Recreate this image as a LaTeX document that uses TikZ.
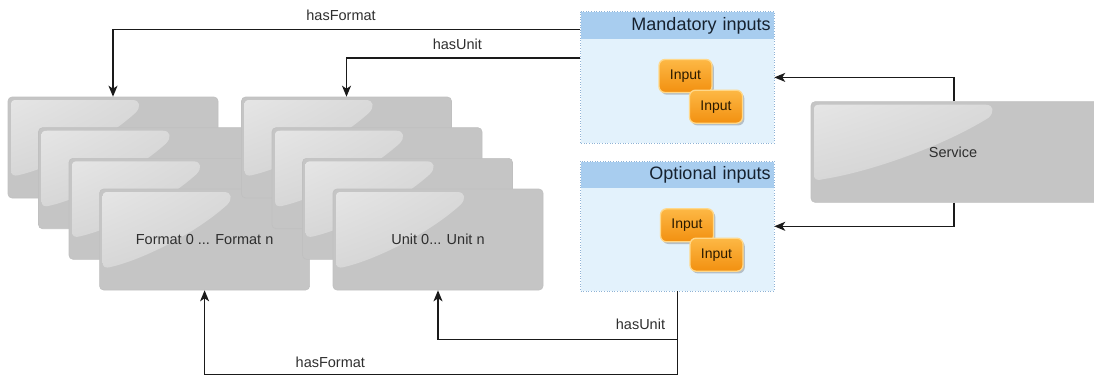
\documentclass[tikz,border=0pt]{standalone}
\usepackage{fontspec}
\setmainfont{Liberation Sans}
\usetikzlibrary{arrows.meta,shadows,calc,shadings}
\definecolor{cardgray}{HTML}{C5C5C5}
\definecolor{cardedge}{HTML}{C0C0C0}
\definecolor{glossA}{HTML}{E6E6E6}
\definecolor{glossB}{HTML}{D3D3D3}
\definecolor{glossC}{HTML}{CACACA}
\definecolor{txt}{HTML}{2E2E2E}
\definecolor{grpbody}{HTML}{E3F2FC}
\definecolor{grphead}{HTML}{A8CDEF}
\definecolor{grpedge}{HTML}{8FB3D6}
\definecolor{grptxt}{HTML}{16212E}
\definecolor{inTop}{HTML}{FDB845}
\definecolor{inBot}{HTML}{F29010}
\definecolor{inEdge}{HTML}{FFD88A}
\definecolor{inTxt}{HTML}{2A1A00}
\definecolor{conncol}{HTML}{1A1A1A}
\tikzset{
  glossy/.style={path picture={
    \shade[sharp corners, upper left=glossA, upper right=glossB, lower left=glossB, lower right=glossC]
      let \p1=(path picture bounding box.north west), \p2=(path picture bounding box.south east) in
      (\x1+3pt,{\y1-0.72*(\y1-\y2)}) -- (\x1+3pt,\y1-9pt)
      .. controls (\x1+3pt,\y1-4pt) and (\x1+4pt,\y1-3pt) .. (\x1+9pt,\y1-3pt)
      -- ({\x1+0.63*(\x2-\x1)-8pt},\y1-3pt)
      .. controls ({\x1+0.63*(\x2-\x1)},\y1-3pt) and ({\x1+0.63*(\x2-\x1)+1pt},\y1-10pt) .. ({\x1+0.63*(\x2-\x1)-5pt},\y1-16pt)
      .. controls ({\x1+0.45*(\x2-\x1)},{\y1-0.45*(\y1-\y2)}) and ({\x1+0.2*(\x2-\x1)},{\y1-0.70*(\y1-\y2)}) .. (\x1+12pt,{\y1-0.77*(\y1-\y2)})
      .. controls (\x1+5pt,{\y1-0.79*(\y1-\y2)}) and (\x1+3pt,{\y1-0.77*(\y1-\y2)}) .. (\x1+3pt,{\y1-0.72*(\y1-\y2)})
      -- cycle;
  }},
  card/.style={rounded corners=4pt, fill=cardgray, draw=cardedge, line width=0.6pt,
    minimum width=210pt, minimum height=101pt, inner sep=0pt, text=txt,
    font=\fontsize{14.5}{17}\selectfont, glossy},
  svcbox/.style={card, minimum width=290pt, minimum height=100.6pt},
  grp/.style={fill=grpbody, minimum width=193.5pt, inner sep=0pt},
  grphd/.style={fill=grphead, minimum width=193.5pt, minimum height=27.5pt, inner xsep=3.5pt, inner ysep=0pt,
    text width=186.5pt, align=right, text=grptxt, font=\fontsize{18}{21}\selectfont, anchor=north},
  grpline/.style={draw=grpedge, line width=0.8pt, dash pattern=on 1pt off 1.6pt},
  inbox/.style={rounded corners=6pt, top color=inTop, bottom color=inBot, draw=inEdge, line width=1.3pt,
    minimum width=53pt, minimum height=33pt, inner sep=0pt, text=inTxt, font=\fontsize{14}{16}\selectfont,
    drop shadow={shadow xshift=1.8pt, shadow yshift=-2.2pt, opacity=0.3, fill=black!70}},
  conn/.style={draw=conncol, line width=1.3pt, -{Stealth[length=11pt,width=9pt,inset=3pt]}},
  lbl/.style={text=txt, font=\fontsize{14.5}{17}\selectfont, inner sep=0pt, anchor=center}
}
\begin{document}
\begin{tikzpicture}[x=1pt,y=-1pt]
\useasboundingbox (0,0) rectangle (1094,376);
% format stack
\node[card] (L1) at (113,147.5) {};
\node[card] (L2) at (143.5,178.2) {};
\node[card] (L3) at (174,208.8) {};
\node[card] (L4) at (204.6,239.5) {Format 0 ... Format n};
% unit stack
\node[card] (R1) at (346.5,147.5) {};
\node[card] (R2) at (377,178.2) {};
\node[card] (R3) at (407.5,208.8) {};
\node[card] (R4) at (438,239.5) {Unit 0... Unit n};
% service
\node[svcbox] (svc) at (956,152) {\hspace*{-6pt}Service};
% mandatory group
\node[grp, minimum height=131.3pt] (mand) at (677.3,77.4) {};
\node[grphd] (mandH) at (mand.north) {Mandatory inputs};
\draw[grpline] (mand.north west) rectangle (mand.south east);
\node[inbox] (in1) at (685.5,76) {Input};
\node[inbox] (in2) at (716,106.7) {Input};
% optional group
\node[grp, minimum height=129.3pt] (opt) at (677.3,226.3) {};
\node[grphd, minimum height=26.6pt] (optH) at (opt.north) {Optional inputs};
\draw[grpline] (opt.north west) rectangle (opt.south east);
\node[inbox] (in3) at (687,225.3) {Input};
\node[inbox] (in4) at (716.5,254.7) {Input};
% connectors
\draw[conn] ([yshift=-17.8pt]mand.north west) -| node[lbl,pos=0.256,yshift=14pt]{hasFormat} (L1.north);
\draw[conn] ([yshift=-46.3pt]mand.north west) -| node[lbl,pos=0.263,yshift=14pt]{hasUnit} (R1.north);
\draw[conn] ([xshift=-2pt]svc.north) |- (mand.east);
\draw[conn] ([xshift=-2pt]svc.south) |- (opt.east);
\draw[conn] (opt.south) |- node[lbl,pos=0.577,yshift=15pt]{hasUnit} ($(R4.south)+(0,49)$) -- (R4.south);
\draw[conn] (opt.south) |- node[lbl,pos=0.867,yshift=12.5pt]{hasFormat} ($(L4.south)+(0,84.5)$) -- (L4.south);
\end{tikzpicture}
\end{document}
